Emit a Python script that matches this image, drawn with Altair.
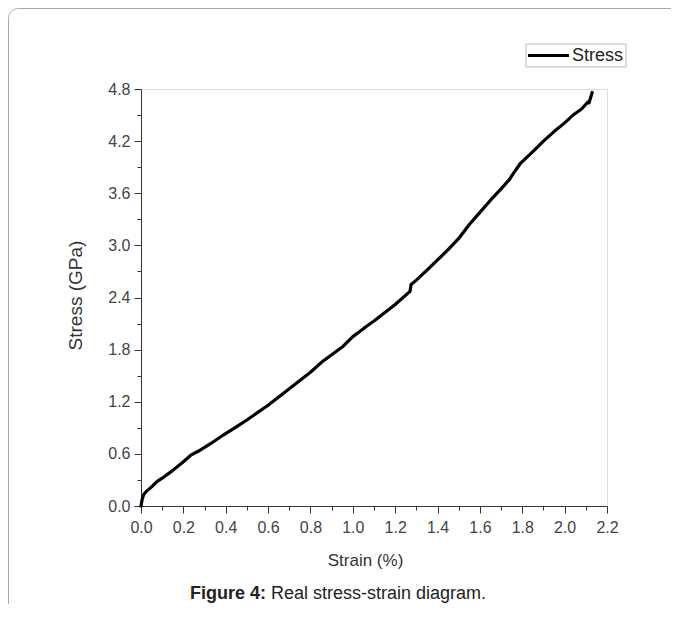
import altair as alt
import pandas as pd

# ---- data ----
strain = [0.0, 0.005, 0.012, 0.024, 0.05, 0.075, 0.10, 0.15, 0.20, 0.235, 0.27, 0.33,
          0.39, 0.45, 0.50, 0.60, 0.70, 0.80, 0.86, 0.95, 1.00, 1.05, 1.06, 1.10,
          1.20, 1.27, 1.275, 1.30, 1.365, 1.45, 1.50, 1.55, 1.60, 1.65, 1.70, 1.74,
          1.75, 1.79, 1.85, 1.90, 1.95, 2.00, 2.04, 2.08, 2.11, 2.115, 2.125, 2.13]
stress = [0.0, 0.07, 0.13, 0.165, 0.22, 0.28, 0.32, 0.41, 0.51, 0.585, 0.63, 0.72,
          0.82, 0.91, 0.99, 1.16, 1.35, 1.54, 1.67, 1.83, 1.95, 2.04, 2.06, 2.13,
          2.32, 2.47, 2.55, 2.60, 2.75, 2.95, 3.08, 3.24, 3.38, 3.52, 3.65, 3.76,
          3.80, 3.94, 4.08, 4.20, 4.31, 4.41, 4.50, 4.57, 4.65, 4.64, 4.72, 4.76]
series_name = "Stress"

x_major = [0.0, 0.2, 0.4, 0.6, 0.8, 1.0, 1.2, 1.4, 1.6, 1.8, 2.0, 2.2]
x_minor = [0.1, 0.3, 0.5, 0.7, 0.9, 1.1, 1.3, 1.5, 1.7, 1.9, 2.1]
y_major = [0.0, 0.6, 1.2, 1.8, 2.4, 3.0, 3.6, 4.2, 4.8]
y_minor = [0.3, 0.9, 1.5, 2.1, 2.7, 3.3, 3.9, 4.5]

x_title = "Strain (%)"
y_title = "Stress (GPa)"
caption_bold = "Figure 4:"
caption_rest = "Real stress-strain diagram."

df = pd.DataFrame({"strain": strain, "stress": stress,
                   "idx": list(range(len(strain))), "series": series_name})
df_minor = pd.DataFrame({"strain": [0.0], "stress": [0.0]})

FONT = "Liberation Sans"
AX = "#333333"
LBL = "#444444"

xscale = alt.Scale(domain=[0, 2.2], nice=False, zero=False)
yscale = alt.Scale(domain=[0, 4.8], nice=False, zero=False)

common_axis = dict(domainColor=AX, tickColor=AX, labelColor=LBL,
                   labelFont=FONT, labelFontSize=16, tickSize=7, grid=False,
                   titleFont=FONT, titleColor="#333333", titleFontWeight="normal")

line = alt.Chart(df).mark_line(strokeWidth=3.2, strokeJoin="round", strokeCap="round",
                               color="black").encode(
    x=alt.X("strain:Q", scale=xscale,
            axis=alt.Axis(values=x_major, format=".1f", title=x_title, orient="bottom",
                          labelPadding=6, titleFontSize=17, titleX=224, titleY=54,
                          titleBaseline="middle", labelFlush=False, **common_axis)),
    y=alt.Y("stress:Q", scale=yscale,
            axis=alt.Axis(values=y_major, format=".1f", title=y_title, orient="left",
                          labelPadding=4, titleFontSize=19, titleX=-66, titleY=206,
                          titleBaseline="middle", labelFlush=False, **common_axis)),
    order="idx:Q",
)

minor = alt.Chart(df_minor).mark_point(opacity=0).encode(
    x=alt.X("strain:Q", scale=xscale,
            axis=alt.Axis(values=x_minor, labels=False, title=None, orient="bottom",
                          domain=False, tickSize=4, tickColor=AX, grid=False)),
    y=alt.Y("stress:Q", scale=yscale,
            axis=alt.Axis(values=y_minor, labels=False, title=None, orient="left",
                          domain=False, tickSize=4, tickColor=AX, grid=False)),
)

frame_df = pd.DataFrame({"k": [0]})
frame = alt.Chart(frame_df).mark_rect(fill=None, stroke="#aaaaaa", strokeWidth=1,
                                      cornerRadius=10).encode(
    x=alt.value(-132.5), x2=alt.value(560), y=alt.value(-80.5), y2=alt.value(560))

# legend drawn by hand (box, sample line, label)
leg_df = pd.DataFrame({"name": [series_name]})
leg_box = alt.Chart(leg_df).mark_rect(fill="white", stroke="#bbbbbb", strokeWidth=1).encode(
    x=alt.value(385), x2=alt.value(485), y=alt.value(-45), y2=alt.value(-22))
leg_line = alt.Chart(leg_df).mark_rule(color="black", strokeWidth=3).encode(
    x=alt.value(387), x2=alt.value(428), y=alt.value(-33.5))
leg_text = alt.Chart(leg_df).mark_text(font=FONT, fontSize=18, align="left",
                                       baseline="middle", color="#222222").encode(
    text="name:N", x=alt.value(431), y=alt.value(-33))

cap_df = pd.DataFrame({"t": [caption_bold], "r": [caption_rest]})
cap1 = alt.Chart(cap_df).mark_text(font=FONT, fontSize=18, fontWeight="bold", align="right",
                                   baseline="middle", color="#222222").encode(
    text="t:N", x=alt.value(125), y=alt.value(505))
cap2 = alt.Chart(cap_df).mark_text(font=FONT, fontSize=18, align="left",
                                   baseline="middle", color="#222222").encode(
    text="r:N", x=alt.value(130), y=alt.value(505))

chart = alt.layer(frame, minor, line, leg_box, leg_line, leg_text, cap1, cap2).resolve_axis(
    x="independent", y="independent"
).properties(
    width=466, height=417,
    autosize=alt.AutoSizeParams(type="none"),
    padding={"left": 133, "top": 81, "right": 64, "bottom": 98},
).configure_view(stroke=None).configure(background="white")

chart.save("out.html", embed_options={"renderer": "svg", "actions": False})
